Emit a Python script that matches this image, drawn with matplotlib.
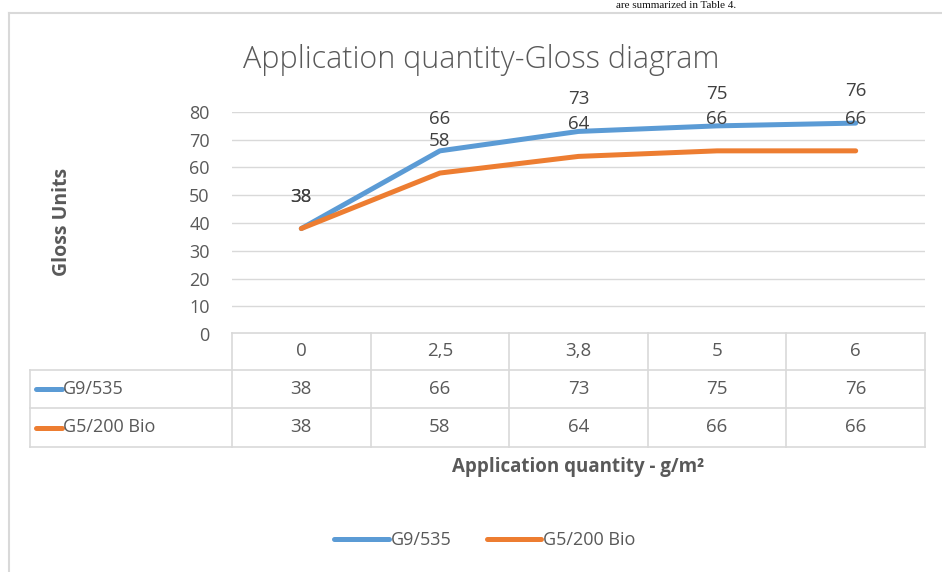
import matplotlib
matplotlib.use("Agg")
import matplotlib.pyplot as plt
from matplotlib.lines import Line2D

plt.rcParams['font.family'] = ['Open Sans', 'DejaVu Sans']

categories = ["0", "2,5", "3,8", "5", "6"]
series_names = ["G9/535", "G5/200 Bio"]
g9_535 = [38, 66, 73, 75, 76]
g5_200_bio = [38, 58, 64, 66, 66]
series_values = [g9_535, g5_200_bio]
colors = ["#5B9BD5", "#ED7D31"]
yticks = [0, 10, 20, 30, 40, 50, 60, 70, 80]
title = "Application quantity-Gloss diagram"
xlabel = "Application quantity - g/m²"
ylabel = "Gloss Units"

W, H = 942, 572
fig = plt.figure(figsize=(W / 100, H / 100), dpi=100)
TXT = "#595959"
GRID = "#D9D9D9"

def fx(px):
    return px / W

def fy(py):
    return 1 - py / H

# outer chart border
fig.add_artist(Line2D([fx(9), fx(9)], [fy(13), fy(572)], color="#D9D9D9", lw=1.5))
fig.add_artist(Line2D([fx(9), fx(942)], [fy(13), fy(13)], color="#D9D9D9", lw=1.5))

# text from the surrounding document (mostly cropped in the original)
fig.text(fx(676), fy(1), "are summarized in Table 4.", ha="center", va="top",
         fontsize=8, family=["Liberation Serif", "DejaVu Serif"], color="#111111")

left, right, top, bottom = 232, 925, 112, 334
ax = fig.add_axes([fx(left), fy(bottom), fx(right - left), (bottom - top) / H])
n = len(categories)
x = list(range(n))
ax.set_xlim(-0.5, n - 0.5)
ax.set_ylim(0, 80)
ax.set_yticks(yticks)
ax.set_yticklabels([str(v) for v in yticks], fontsize=13, color=TXT)
ax.tick_params(axis="y", length=0, pad=16)
ax.set_xticks([])
for s in ax.spines.values():
    s.set_visible(False)
ax.grid(axis="y", color=GRID, lw=1)
ax.set_axisbelow(True)

for vals, c in zip(series_values, colors):
    ax.plot(x, vals, color=c, lw=3.6, solid_capstyle="round", zorder=3)
for vals in series_values:
    for xi, v in zip(x, vals):
        ax.annotate(str(v), (xi, v), xytext=(0, 23), textcoords="offset points",
                    ha="center", va="center", fontsize=13.5, color="#404040",
                    annotation_clip=False, zorder=4)

fig.text(fx(481), fy(60), title, ha="center", va="center", fontsize=22,
         color=TXT, fontweight="light")
fig.text(fx(62), fy(222), ylabel, ha="center", va="center", rotation=90,
         fontsize=14, fontweight="bold", color=TXT)
fig.text(fx(578), fy(467), xlabel, ha="center", va="center",
         fontsize=13.5, fontweight="bold", color=TXT)

# data table below the axis
col_edges = [left + (right - left) * i / n for i in range(n + 1)]
row_y = [333, 370, 408, 447]
tbl_left = 30
fig.add_artist(Line2D([fx(left), fx(right)], [fy(row_y[0])] * 2, color=GRID, lw=1.2))
for yy in row_y[1:]:
    fig.add_artist(Line2D([fx(tbl_left), fx(right)], [fy(yy)] * 2, color=GRID, lw=1.2))
for i, xe in enumerate(col_edges):
    fig.add_artist(Line2D([fx(xe)] * 2, [fy(row_y[0]), fy(row_y[3])], color=GRID, lw=1.2))
fig.add_artist(Line2D([fx(tbl_left)] * 2, [fy(row_y[1]), fy(row_y[3])], color=GRID, lw=1.2))

for i, cat in enumerate(categories):
    cx = (col_edges[i] + col_edges[i + 1]) / 2
    fig.text(fx(cx), fy((row_y[0] + row_y[1]) / 2), cat, ha="center", va="center",
             fontsize=13.5, color=TXT)
for r, (name, vals, c) in enumerate(zip(series_names, series_values, colors)):
    cy = (row_y[r + 1] + row_y[r + 2]) / 2
    fig.add_artist(Line2D([fx(36), fx(62)], [fy(cy)] * 2, color=c, lw=3.6,
                          solid_capstyle="round"))
    fig.text(fx(63), fy(cy), name, ha="left", va="center", fontsize=13,
             color=TXT)
    for i, v in enumerate(vals):
        cx = (col_edges[i] + col_edges[i + 1]) / 2
        fig.text(fx(cx), fy(cy), str(v), ha="center", va="center",
                 fontsize=13.5, color=TXT)

# legend at the bottom
leg_handles = [Line2D([], [], color=c, lw=3.6, solid_capstyle="round") for c in colors]
fig.legend(leg_handles, series_names, loc="center", bbox_to_anchor=(fx(485), fy(540)),
           ncol=2, frameon=False, fontsize=13, handlelength=3.0, handletextpad=0.1,
           columnspacing=2.0, labelcolor=TXT)

fig.savefig("out.png", dpi=100)
